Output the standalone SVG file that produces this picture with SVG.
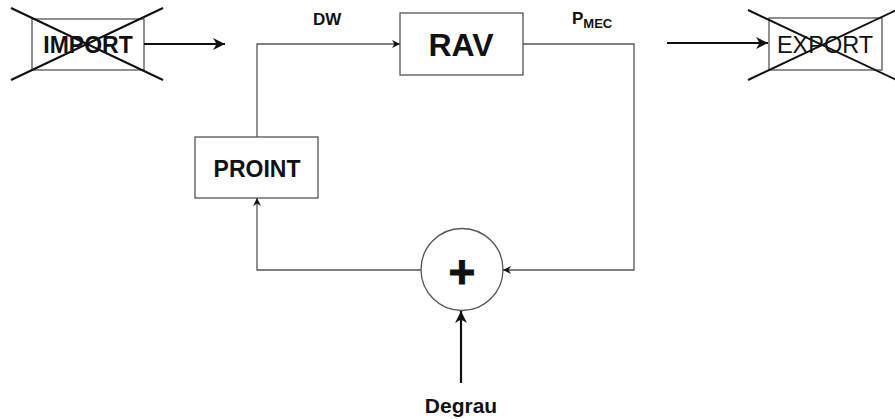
<svg xmlns="http://www.w3.org/2000/svg" width="895" height="419" viewBox="0 0 895 419">
<defs>
<style>
.box{fill:#fff;stroke:#555;stroke-width:1.3}
.cross{stroke:#111;stroke-width:2}
.thin{fill:none;stroke:#555;stroke-width:1.3}
.thick{fill:none;stroke:#111;stroke-width:2.2}
text{font-family:"Liberation Sans",Arial,sans-serif;fill:#111}
.b{font-weight:bold}
</style>
<marker id="small" viewBox="0 0 10 10" refX="10" refY="5" markerWidth="8" markerHeight="8" markerUnits="userSpaceOnUse" orient="auto">
<path d="M0,0 L10,5 L0,10 L3,5 Z" fill="#111"/>
</marker>
<marker id="big" viewBox="0 0 10 10" refX="10" refY="5" markerWidth="12" markerHeight="12" markerUnits="userSpaceOnUse" orient="auto">
<path d="M0,0 L10,5 L0,10 L3,5 Z" fill="#111"/>
</marker>
</defs>
<rect width="895" height="419" fill="#fff"/>
<g id="import">
<rect class="box" x="32" y="19" width="112" height="51"/>
<text x="88" y="53" font-size="23" class="b" text-anchor="middle">IMPORT</text>
<line class="cross" x1="11" y1="8" x2="163" y2="80"/>
<line class="cross" x1="11" y1="80" x2="163" y2="8"/>
</g>
<g id="export">
<rect class="box" x="769" y="18" width="113" height="52"/>
<text x="825" y="53" font-size="23.5" text-anchor="middle">EXPORT</text>
<line class="cross" x1="748" y1="10" x2="903" y2="83"/>
<line class="cross" x1="748" y1="80" x2="903" y2="7"/>
</g>
<g id="rav">
<rect class="box" x="400" y="13" width="123" height="62"/>
<text x="461" y="56" font-size="32" class="b" text-anchor="middle">RAV</text>
</g>
<g id="proint">
<rect class="box" x="195" y="137" width="123" height="61"/>
<text x="257" y="177" font-size="23" class="b" text-anchor="middle">PROINT</text>
</g>
<g id="sum">
<circle class="box" cx="462" cy="269.5" r="41"/>
<text x="462" y="288" font-size="46" class="b" text-anchor="middle" stroke="#111" stroke-width="1">+</text>
</g>
<g id="labels">
<text x="313" y="25" font-size="17" class="b">DW</text>
<text x="572" y="24" font-size="17" class="b">P<tspan font-size="13" dy="4">MEC</tspan></text>
<text x="461" y="413" font-size="21" class="b" text-anchor="middle">Degrau</text>
</g>
<g id="connectors">
<line class="thick" x1="144" y1="44" x2="225" y2="44" marker-end="url(#big)"/>
<polyline class="thin" points="257,137 257,44 400,44" marker-end="url(#small)"/>
<polyline class="thin" points="523,44 634,44 634,270 503,270" marker-end="url(#small)"/>
<polyline class="thin" points="421,270 257,270 257,198" marker-end="url(#small)"/>
<line class="thick" x1="667" y1="43" x2="768" y2="43" marker-end="url(#big)"/>
<line class="thick" x1="461" y1="383" x2="461" y2="311" marker-end="url(#big)"/>
</g>
</svg>
